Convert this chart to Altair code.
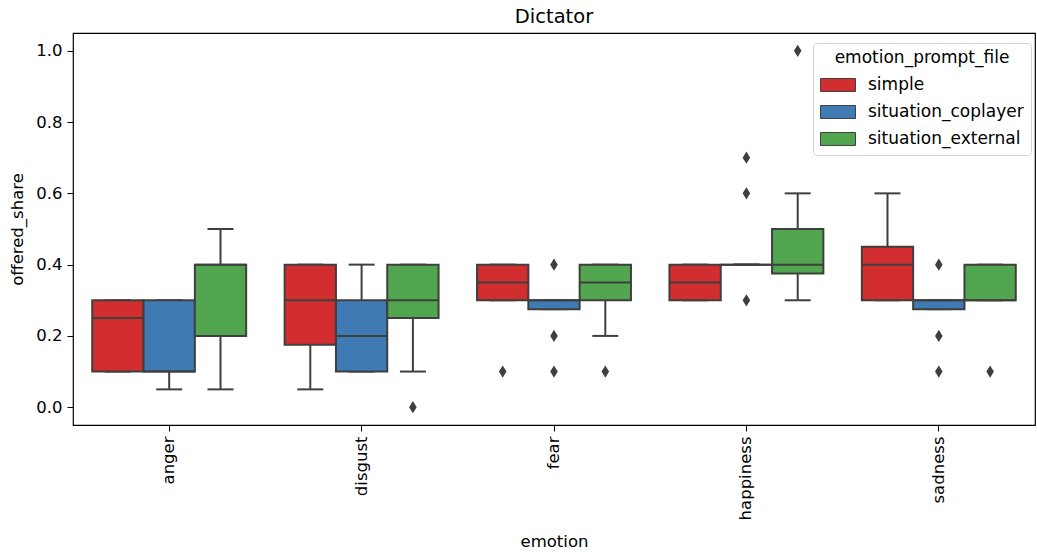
import altair as alt
import pandas as pd

emotions = ["anger", "disgust", "fear", "happiness", "sadness"]
prompts = ["simple", "situation_coplayer", "situation_external"]
colors = ["#d22d2f", "#3f7ab4", "#52a64f"]

# Box statistics, one entry per (emotion, prompt) in emotion-major order
q1 = [0.10, 0.10, 0.20,
      0.175, 0.10, 0.25,
      0.30, 0.275, 0.30,
      0.30, 0.40, 0.375,
      0.30, 0.275, 0.30]
median = [0.25, 0.10, 0.40,
          0.30, 0.20, 0.30,
          0.35, 0.30, 0.35,
          0.35, 0.40, 0.40,
          0.40, 0.30, 0.30]
q3 = [0.30, 0.30, 0.40,
      0.40, 0.30, 0.40,
      0.40, 0.30, 0.40,
      0.40, 0.40, 0.50,
      0.45, 0.30, 0.40]
whisker_low = [0.10, 0.05, 0.05,
               0.05, 0.10, 0.10,
               0.30, 0.275, 0.20,
               0.30, 0.40, 0.30,
               0.30, 0.275, 0.30]
whisker_high = [0.30, 0.30, 0.50,
                0.40, 0.40, 0.40,
                0.40, 0.30, 0.40,
                0.40, 0.40, 0.60,
                0.60, 0.30, 0.40]

# Outlying observations
out_emotion = ["disgust", "fear", "fear", "fear", "fear", "fear",
               "happiness", "happiness", "happiness", "happiness",
               "sadness", "sadness", "sadness", "sadness"]
out_prompt = ["situation_external", "simple", "situation_coplayer", "situation_coplayer",
              "situation_coplayer", "situation_external",
              "situation_coplayer", "situation_coplayer", "situation_coplayer", "situation_external",
              "situation_coplayer", "situation_coplayer", "situation_coplayer", "situation_external"]
out_value = [0.0, 0.1, 0.4, 0.2, 0.1, 0.1,
             0.7, 0.6, 0.3, 1.0,
             0.4, 0.2, 0.1, 0.1]

rows = []
i = 0
for e in emotions:
    for p in prompts:
        rows.append({"emotion": e, "emotion_prompt_file": p, "q1": q1[i], "median": median[i],
                     "q3": q3[i], "lo": whisker_low[i], "hi": whisker_high[i]})
        i += 1
box_df = pd.DataFrame(rows)
out_df = pd.DataFrame({"emotion": out_emotion, "emotion_prompt_file": out_prompt,
                       "offered_share": out_value})

LINE = "#3f3f3f"
FONT = "DejaVu Sans"
FS = 16.5

x_enc = alt.X("emotion:N", sort=emotions, title="emotion",
              scale=alt.Scale(paddingInner=0.2, paddingOuter=0.1),
              axis=alt.Axis(labelAngle=-90, tickSize=6, labelPadding=5, titlePadding=14,
                            domain=False, tickColor="black", labelColor="black",
                            titleColor="black", labelFontSize=FS, titleFontSize=FS,
                            titleFontWeight="normal", labelFont=FONT, titleFont=FONT))
xo_enc = alt.XOffset("emotion_prompt_file:N", sort=prompts,
                     scale=alt.Scale(paddingInner=0, paddingOuter=0))
y_scale = alt.Scale(domain=[-0.05, 1.05], nice=False, zero=False)
y_axis = alt.Axis(values=[0, 0.2, 0.4, 0.6, 0.8, 1.0], format=".1f", tickSize=6,
                  labelPadding=5, titlePadding=10, domain=False, grid=False,
                  tickColor="black", labelColor="black", titleColor="black",
                  labelFontSize=FS, titleFontSize=FS, titleFontWeight="normal",
                  labelFont=FONT, titleFont=FONT)

base = alt.Chart(box_df)

whisk_lo = base.mark_rule(color=LINE, strokeWidth=2).encode(
    x=x_enc, xOffset=xo_enc,
    y=alt.Y("lo:Q", scale=y_scale, axis=y_axis, title="offered_share"), y2="q1:Q")
whisk_hi = base.mark_rule(color=LINE, strokeWidth=2).encode(
    x=x_enc, xOffset=xo_enc, y=alt.Y("q3:Q", scale=y_scale), y2="hi:Q")
cap_lo = base.mark_tick(orient="horizontal", size=26, thickness=2, color=LINE, opacity=1).encode(
    x=x_enc, xOffset=xo_enc, y=alt.Y("lo:Q", scale=y_scale))
cap_hi = base.mark_tick(orient="horizontal", size=26, thickness=2, color=LINE, opacity=1).encode(
    x=x_enc, xOffset=xo_enc, y=alt.Y("hi:Q", scale=y_scale))
boxes = base.mark_bar(stroke=LINE, strokeWidth=2, opacity=1).encode(
    x=x_enc, xOffset=xo_enc,
    y=alt.Y("q1:Q", scale=y_scale), y2="q3:Q",
    color=alt.Color("emotion_prompt_file:N", sort=prompts,
                    scale=alt.Scale(domain=prompts, range=colors),
                    legend=alt.Legend(title="emotion_prompt_file", orient="none",
                                      legendX=740, legendY=10,
                                      symbolType="M-1,-0.37H1V0.37H-1Z", symbolSize=1225,
                                      symbolStrokeColor=LINE, symbolStrokeWidth=1,
                                      symbolOpacity=1,
                                      labelFontSize=17, titleFontSize=17,
                                      titleFontWeight="normal", labelFont=FONT, titleFont=FONT,
                                      labelColor="black", titleColor="black",
                                      titleAnchor="middle", titlePadding=0,
                                      rowPadding=0, labelOffset=12,
                                      padding=7, fillColor="white", strokeColor="#d5d5d5",
                                      cornerRadius=3)))
medians = base.mark_bar(fillOpacity=0, stroke=LINE, strokeWidth=2).encode(
    x=x_enc, xOffset=xo_enc, y=alt.Y("median:Q", scale=y_scale), y2="median:Q")
outliers = alt.Chart(out_df).mark_point(
    shape="M0,-1L0.62,0L0,1L-0.62,0Z", filled=True, color=LINE, size=150, opacity=1
).encode(x=x_enc, xOffset=xo_enc, y=alt.Y("offered_share:Q", scale=y_scale))

chart = alt.layer(whisk_lo, whisk_hi, cap_lo, cap_hi, boxes, medians, outliers).properties(
    width=962, height=392,
    background="white",
    title=alt.Title("Dictator", fontSize=19.5, fontWeight="normal", font=FONT,
                    color="black", offset=6),
    autosize=alt.AutoSizeParams(type="none"),
    padding={"left": 73, "top": 33, "right": 2, "bottom": 127},
).configure_view(stroke="black", strokeWidth=1.2)

chart.save("out.html", embed_options={"renderer": "svg", "actions": False})
